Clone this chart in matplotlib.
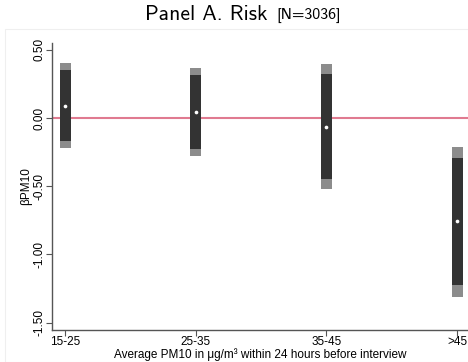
import numpy as np
import matplotlib.pyplot as plt
from matplotlib.patches import Rectangle

groups = ["15-25", "25-35", "35-45", ">45"]
coef = [0.088, 0.042, -0.064, -0.758]
ci90_lo = [-0.169, -0.230, -0.450, -1.225]
ci90_hi = [0.350, 0.313, 0.320, -0.296]
ci95_lo = [-0.222, -0.279, -0.522, -1.315]
ci95_hi = [0.405, 0.367, 0.396, -0.210]
yticks = [0.5, 0.0, -0.5, -1.0, -1.5]

fig = plt.figure(figsize=(4.68, 3.62), dpi=100)
ax = fig.add_axes([52/468, 1 - 330/362, 1 - 52/468 + 0.002, (330 - 43)/362])

# faint plot region outline
fig.patches.append(Rectangle((5/468, 0), 1, 1 - 29/362, transform=fig.transFigure,
                             fill=False, edgecolor="#efefef", linewidth=0.8))

x = np.arange(1, len(groups) + 1)
w = 0.085
ax.bar(x, np.array(ci95_hi) - np.array(ci95_lo), bottom=ci95_lo, width=w,
       color="#8c8c8c", zorder=2)
ax.bar(x, np.array(ci90_hi) - np.array(ci90_lo), bottom=ci90_lo, width=w,
       color="#333333", zorder=3)
ax.axhline(0, color="#e07a90", linewidth=1.5, zorder=2.5)
ax.scatter(x, coef, s=7, color="white", zorder=4, linewidths=0)

ax.set_xlim(0.9, 4.09)
ax.set_ylim(-1.555, 0.55)
ax.set_xticks(x)
ax.set_xticklabels(groups, fontfamily="Liberation Sans", fontsize=8.5)
ax.set_yticks(yticks)
ax.set_yticklabels(["%.2f" % v for v in yticks], rotation=90, va="center",
                   fontfamily="Liberation Sans", fontsize=8.5)
for s in ["top", "right"]:
    ax.spines[s].set_visible(False)
for s in ["left", "bottom"]:
    ax.spines[s].set_color("#555555")
    ax.spines[s].set_linewidth(1.0)
ax.tick_params(length=4, width=0.8, color="#555555")
ax.tick_params(axis="x", pad=0.5)
ax.tick_params(axis="y", pad=1)

ax.set_ylabel("βPM10", fontfamily="Liberation Sans", fontsize=8.5, labelpad=1)
ax.set_xlabel("Average PM10 in μg/m³ within 24 hours before interview",
              fontfamily="Liberation Sans", fontsize=8.5, labelpad=0)

fig.text(0.572, 1 - 15/362, "Panel A. Risk", fontfamily="cmss10", fontsize=15.5,
         ha="right", va="center")
fig.text(0.59, 1 - 15.5/362, "[N=3036]", fontfamily="cmss10", fontsize=11.5,
         ha="left", va="center")

fig.savefig("out.png", dpi=100)
